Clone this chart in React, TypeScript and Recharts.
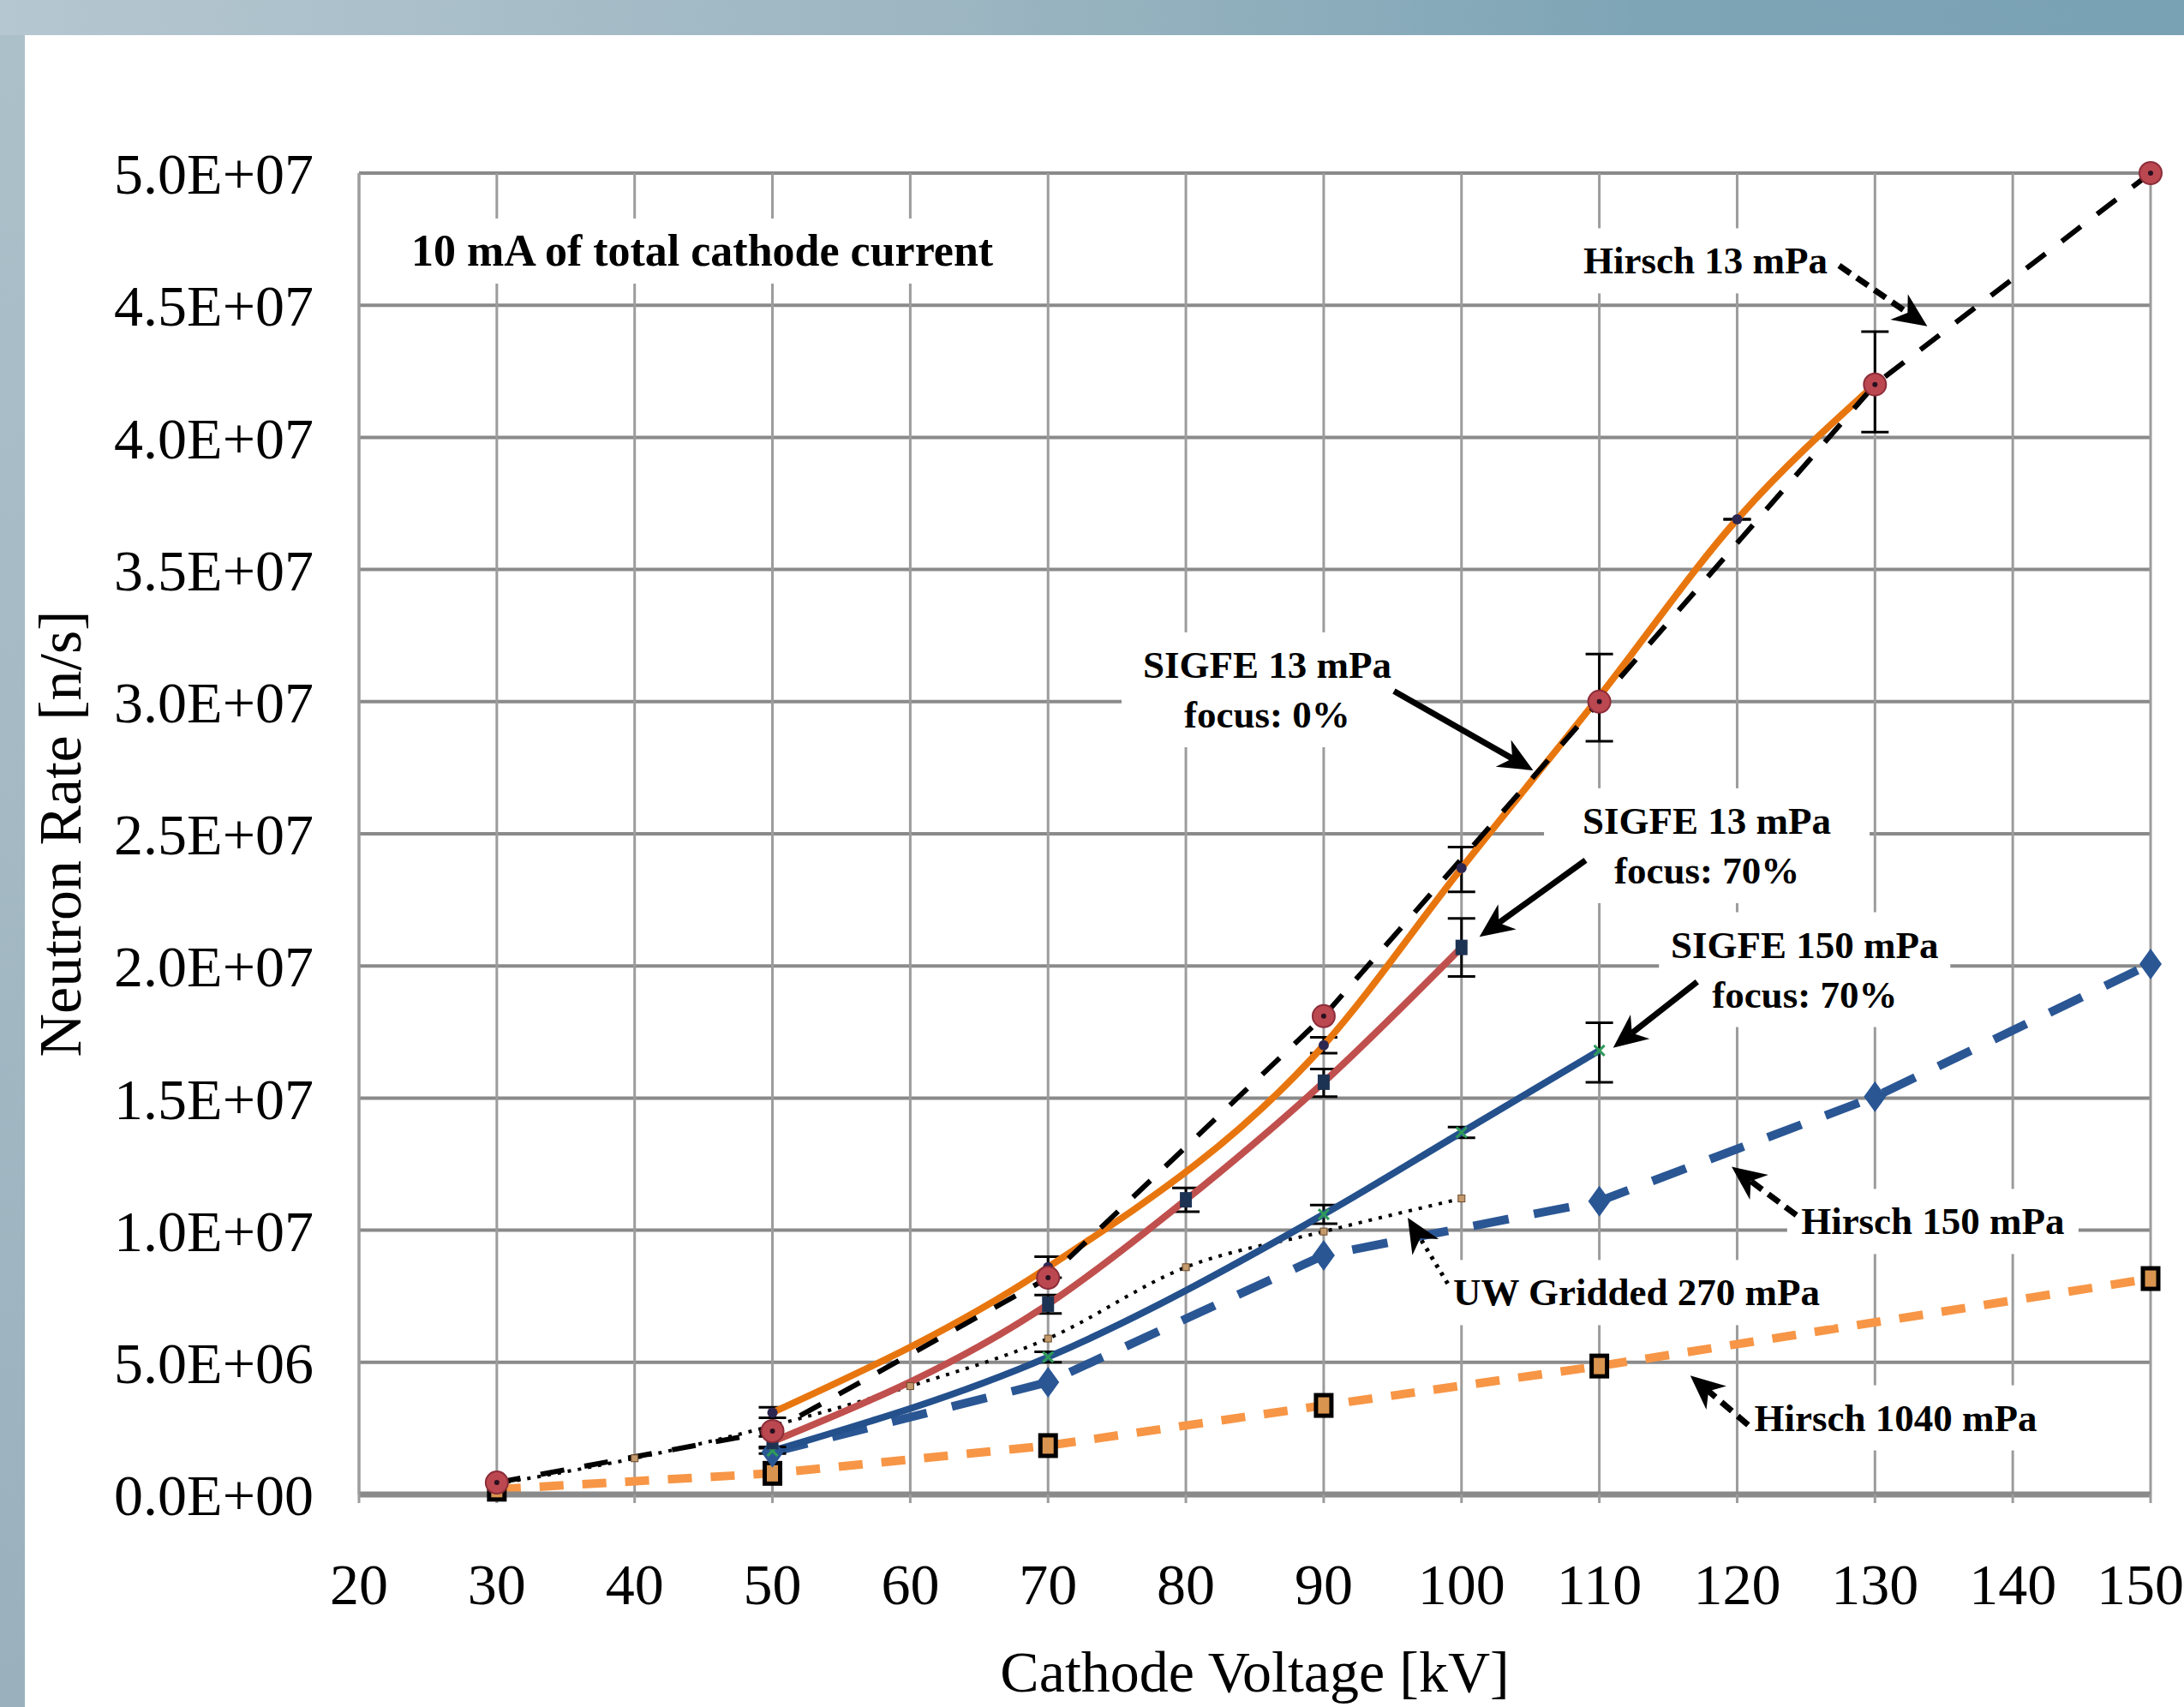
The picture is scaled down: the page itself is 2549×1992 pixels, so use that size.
import React from "react";
import {
  CartesianGrid,
  ErrorBar,
  Line,
  LineChart,
  ReferenceLine,
  XAxis,
  YAxis,
} from "recharts";

const FONT = '"Liberation Serif", "Times New Roman", "DejaVu Serif", serif';

const X_TICKS = [20, 30, 40, 50, 60, 70, 80, 90, 100, 110, 120, 130, 140, 150];
const Y_TICKS = [0, 5e6, 1e7, 1.5e7, 2e7, 2.5e7, 3e7, 3.5e7, 4e7, 4.5e7, 5e7];

// Hirsch 13 mPa (black dashed, red circles)
const HIRSCH13_KV = [30, 50, 70, 90, 110, 130, 150];
const HIRSCH13_RATE = [0.45e6, 2.4e6, 8.2e6, 18.1e6, 30.0e6, 42.0e6, 50.0e6];

// SIGFE 13 mPa, focus 0% (orange solid)
const SIGFE13_F0_KV = [50, 70, 90, 100, 110, 120, 130];
const SIGFE13_F0_RATE = [3.1e6, 8.6e6, 17.0e6, 23.7e6, 30.2e6, 36.9e6, 42.0e6];
const SIGFE13_F0_ERR = [
  [0.2e6, 0.2e6],
  [0.4e6, 0.4e6],
  [0.3e6, 0.3e6],
  [0.9e6, 0.8e6],
  [1.7e6, 1.6e6],
  [0, 0],
  [1.8e6, 2.0e6],
];

// SIGFE 13 mPa, focus 70% (red solid)
const SIGFE13_F70_KV = [50, 70, 80, 90, 100];
const SIGFE13_F70_RATE = [2.0e6, 7.2e6, 11.15e6, 15.6e6, 20.7e6];
const SIGFE13_F70_ERR = [
  [0.2e6, 0.2e6],
  [0.35e6, 0.35e6],
  [0.45e6, 0.45e6],
  [0.55e6, 0.5e6],
  [1.1e6, 1.1e6],
];

// SIGFE 150 mPa, focus 70% (blue solid)
const SIGFE150_KV = [50, 70, 90, 100, 110];
const SIGFE150_RATE = [1.65e6, 5.2e6, 10.6e6, 13.7e6, 16.8e6];
const SIGFE150_ERR = [
  [0.1e6, 0.1e6],
  [0.2e6, 0.2e6],
  [0.35e6, 0.35e6],
  [0.2e6, 0.2e6],
  [1.2e6, 1.05e6],
];

// Hirsch 150 mPa (blue dashed, diamonds)
const HIRSCH150_KV = [50, 70, 90, 110, 130, 150];
const HIRSCH150_RATE = [1.6e6, 4.25e6, 9.05e6, 11.1e6, 15.05e6, 20.07e6];

// Hirsch 1040 mPa (light orange dashed, black squares)
const HIRSCH1040_KV = [30, 50, 70, 90, 110, 150];
const HIRSCH1040_RATE = [0.2e6, 0.8e6, 1.85e6, 3.37e6, 4.86e6, 8.17e6];

// UW Gridded 270 mPa (black dotted)
const UW270_KV = [30, 40, 50, 60, 70, 80, 90, 100];
const UW270_RATE = [0.4e6, 1.37e6, 2.6e6, 4.1e6, 5.9e6, 8.6e6, 9.95e6, 11.2e6];

// annotations
const NOTE_LINES = [
  ["10 mA of total cathode current"],
  ["Hirsch 13 mPa"],
  ["SIGFE 13 mPa", "focus: 0%"],
  ["SIGFE 13 mPa", "focus: 70%"],
  ["SIGFE 150 mPa", "focus: 70%"],
  ["Hirsch 150 mPa"],
  ["UW Gridded 270 mPa"],
  ["Hirsch 1040 mPa"],
];
const NOTE_KV = [44.9, 117.7, 85.9, 117.8, 124.9, 134.2, 112.7, 131.5];
const NOTE_RATE = [47.05e6, 46.68e6, 30.45e6, 24.55e6, 19.86e6, 10.33e6, 7.64e6, 2.9e6];
const NOTE_SIZE = [52, 45, 45, 45, 45, 45, 45, 45];
const NOTE_BOX_W = [740, 320, 340, 380, 340, 340, 460, 360];

const ARROW_FROM_KV = [127.4, 95.1, 109.0, 117.1, 124.3, 99.0, 120.8];
const ARROW_FROM_RATE = [46.5e6, 30.4e6, 24.0e6, 19.4e6, 10.57e6, 7.98e6, 2.63e6];
const ARROW_TO_KV = [133.8, 105.2, 101.3, 111.0, 119.6, 96.1, 116.6];
const ARROW_TO_RATE = [44.2e6, 27.4e6, 21.1e6, 16.9e6, 12.4e6, 10.47e6, 4.5e6];
const ARROW_DASH = ["16 9", undefined, undefined, undefined, "16 9", "4 7", "16 9"];

const toPoints = (kv: number[], rate: number[], err?: number[][]) =>
  kv.map((x, i) => ({ x, y: rate[i], err: err ? err[i] : undefined }));

const sci = (v: number) => {
  if (v === 0) return "0.0E+00";
  const e = Math.floor(Math.log10(v) + 1e-9);
  const m = v / Math.pow(10, e);
  return `${m.toFixed(1)}E+${String(e).padStart(2, "0")}`;
};

const redCircle = (p: any) => (
  <g key={`h13-${p.index}`}>
    <circle cx={p.cx} cy={p.cy} r={13} fill="#bb4850" stroke="#8c2d3a" strokeWidth={2} />
    <circle cx={p.cx} cy={p.cy} r={3} fill="#2a1020" />
  </g>
);
const navyDot = (p: any) => (
  <circle key={`s0-${p.index}`} cx={p.cx} cy={p.cy} r={6} fill="#2d2650" />
);
const navySquare = (p: any) => (
  <rect key={`s70-${p.index}`} x={p.cx - 7} y={p.cy - 9} width={14} height={18} fill="#1d3354" />
);
const greenCross = (p: any) => (
  <g key={`s150-${p.index}`} stroke="#2f9a5a" strokeWidth={3}>
    <line x1={p.cx - 6} y1={p.cy - 6} x2={p.cx + 6} y2={p.cy + 6} />
    <line x1={p.cx - 6} y1={p.cy + 6} x2={p.cx + 6} y2={p.cy - 6} />
  </g>
);
const blueDiamond = (p: any) => (
  <polygon
    key={`h150-${p.index}`}
    points={`${p.cx},${p.cy - 18} ${p.cx + 13},${p.cy} ${p.cx},${p.cy + 18} ${p.cx - 13},${p.cy}`}
    fill="#2a5694"
  />
);
const blackSquare = (p: any) => (
  <rect
    key={`h1040-${p.index}`}
    x={p.cx - 9}
    y={p.cy - 12}
    width={18}
    height={24}
    fill="#d9954f"
    stroke="#000"
    strokeWidth={5}
  />
);
const tanSquare = (p: any) => (
  <rect
    key={`uw-${p.index}`}
    x={p.cx - 4}
    y={p.cy - 4}
    width={8}
    height={8}
    fill="#c49a6c"
    stroke="#6b4a2a"
    strokeWidth={1}
  />
);

// note drawn at the first point of a zero-length reference segment
const noteShape = (i: number) => (props: any) => {
  const cx = props.x1;
  const cy = props.y1;
  const lines = NOTE_LINES[i];
  const fs = NOTE_SIZE[i];
  const lh = 58;
  const w = NOTE_BOX_W[i];
  const h = lines.length * lh + 18;
  return (
    <g>
      <rect x={cx - w / 2} y={cy - h / 2} width={w} height={h} fill="#fff" />
      {lines.map((t, k) => (
        <text
          key={k}
          x={cx}
          y={cy + (k - (lines.length - 1) / 2) * lh}
          textAnchor="middle"
          dominantBaseline="central"
          fontFamily={FONT}
          fontWeight="bold"
          fontSize={fs}
          fill="#000"
        >
          {t}
        </text>
      ))}
    </g>
  );
};

const arrowShape = (i: number) => (props: any) => {
  const { x1, y1, x2, y2 } = props;
  const dx = x2 - x1;
  const dy = y2 - y1;
  const len = Math.hypot(dx, dy) || 1;
  const ux = dx / len;
  const uy = dy / len;
  const head = 40;
  const half = 18;
  const bx = x2 - ux * head;
  const by = y2 - uy * head;
  const nx = x2 - ux * head * 0.7;
  const ny = y2 - uy * head * 0.7;
  const pts = `${x2},${y2} ${bx - uy * half},${by + ux * half} ${nx},${ny} ${bx + uy * half},${by - ux * half}`;
  return (
    <g>
      <line
        x1={x1}
        y1={y1}
        x2={nx}
        y2={ny}
        stroke="#000"
        strokeWidth={ARROW_DASH[i] === "4 7" ? 5 : 7}
        strokeDasharray={ARROW_DASH[i]}
      />
      <polygon points={pts} fill="#000" />
    </g>
  );
};

const XLabel = (props: any) => {
  const vb = props.viewBox ?? { x: 419, y: 1744, width: 2091, height: 248 };
  return (
    <text
      x={vb.x + vb.width / 2}
      y={vb.y + vb.height - 18}
      textAnchor="middle"
      fontFamily={FONT}
      fontSize={68}
      fill="#000"
    >
      Cathode Voltage [kV]
    </text>
  );
};

const YLabel = (props: any) => {
  const vb = props.viewBox ?? { x: 0, y: 202, width: 419, height: 1542 };
  const x = vb.x + 70;
  const y = vb.y + vb.height / 2;
  return (
    <text
      x={x}
      y={y}
      transform={`rotate(-90 ${x} ${y})`}
      textAnchor="middle"
      dominantBaseline="central"
      fontFamily={FONT}
      fontSize={70}
      fill="#000"
    >
      Neutron Rate [n/s]
    </text>
  );
};

export default function App() {
  return (
    <div
      style={{
        position: "absolute",
        left: 0,
        top: 0,
        width: 2549,
        height: 1992,
        background: "#fff",
        overflow: "hidden",
      }}
    >
      <div
        style={{
          position: "absolute",
          left: 0,
          top: 0,
          width: 2549,
          height: 41,
          background: "linear-gradient(90deg, #b5c7d1 0%, #9bb5c1 45%, #7ea5b6 75%, #79a2b4 100%)",
        }}
      />
      <div
        style={{
          position: "absolute",
          left: 0,
          top: 41,
          width: 29,
          height: 1951,
          background: "linear-gradient(180deg, #acc0ca 0%, #9ab1bd 100%)",
        }}
      />
      <div style={{ position: "absolute", left: 0, top: 0 }}>
        <LineChart width={2549} height={1992} margin={{ top: 202, right: 39, bottom: 0, left: 0 }}>
          <CartesianGrid vertical={false} stroke="#8a8a8a" strokeWidth={4} />
          <CartesianGrid horizontal={false} stroke="#9c9c9c" strokeWidth={3} />
          <XAxis
            type="number"
            dataKey="x"
            domain={[20, 150]}
            ticks={X_TICKS}
            height={248}
            axisLine={{ stroke: "#8a8a8a", strokeWidth: 7 }}
            tickLine={{ stroke: "#9c9c9c", strokeWidth: 3 }}
            tickSize={10}
            tickMargin={70}
            tick={{ fill: "#000", fontSize: 68, fontFamily: FONT }}
            label={<XLabel />}
          />
          <YAxis
            type="number"
            domain={[0, 5e7]}
            ticks={Y_TICKS}
            width={419}
            tickFormatter={sci}
            axisLine={{ stroke: "#9c9c9c", strokeWidth: 3 }}
            tickLine={false}
            tickSize={0}
            tickMargin={53}
            tick={{ fill: "#000", fontSize: 68, fontFamily: FONT }}
            label={<YLabel />}
          />

          <Line
            data={toPoints(HIRSCH1040_KV, HIRSCH1040_RATE)}
            dataKey="y"
            stroke="#f79646"
            strokeWidth={10}
            strokeDasharray="28 22"
            dot={blackSquare}
            activeDot={false}
            isAnimationActive={false}
          />
          <Line
            data={toPoints(HIRSCH150_KV, HIRSCH150_RATE)}
            dataKey="y"
            stroke="#2a5694"
            strokeWidth={10}
            strokeDasharray="42 30"
            dot={blueDiamond}
            activeDot={false}
            isAnimationActive={false}
          />
          <Line
            data={toPoints(UW270_KV, UW270_RATE)}
            dataKey="y"
            type="monotone"
            stroke="#000"
            strokeWidth={4}
            strokeDasharray="4 8"
            dot={tanSquare}
            activeDot={false}
            isAnimationActive={false}
          />
          <Line
            data={toPoints(SIGFE150_KV, SIGFE150_RATE, SIGFE150_ERR)}
            dataKey="y"
            type="monotone"
            stroke="#24508c"
            strokeWidth={8}
            dot={greenCross}
            activeDot={false}
            isAnimationActive={false}
          >
            <ErrorBar dataKey="err" direction="y" width={16} strokeWidth={3} stroke="#000" />
          </Line>
          <Line
            data={toPoints(SIGFE13_F70_KV, SIGFE13_F70_RATE, SIGFE13_F70_ERR)}
            dataKey="y"
            type="monotone"
            stroke="#c0504d"
            strokeWidth={8}
            dot={navySquare}
            activeDot={false}
            isAnimationActive={false}
          >
            <ErrorBar dataKey="err" direction="y" width={16} strokeWidth={3} stroke="#000" />
          </Line>
          <Line
            data={toPoints(SIGFE13_F0_KV, SIGFE13_F0_RATE, SIGFE13_F0_ERR)}
            dataKey="y"
            type="monotone"
            stroke="#e8760f"
            strokeWidth={8}
            dot={navyDot}
            activeDot={false}
            isAnimationActive={false}
          >
            <ErrorBar dataKey="err" direction="y" width={16} strokeWidth={3} stroke="#000" />
          </Line>
          <Line
            data={toPoints(HIRSCH13_KV, HIRSCH13_RATE)}
            dataKey="y"
            stroke="#000"
            strokeWidth={6}
            strokeDasharray="28 24"
            dot={redCircle}
            activeDot={false}
            isAnimationActive={false}
          />

          {NOTE_LINES.map((_, i) => (
            <ReferenceLine
              key={`note-${i}`}
              segment={[
                { x: NOTE_KV[i], y: NOTE_RATE[i] },
                { x: NOTE_KV[i], y: NOTE_RATE[i] },
              ]}
              shape={noteShape(i)}
            />
          ))}
          {ARROW_FROM_KV.map((_, i) => (
            <ReferenceLine
              key={`arrow-${i}`}
              segment={[
                { x: ARROW_FROM_KV[i], y: ARROW_FROM_RATE[i] },
                { x: ARROW_TO_KV[i], y: ARROW_TO_RATE[i] },
              ]}
              shape={arrowShape(i)}
            />
          ))}
        </LineChart>
      </div>
    </div>
  );
}
